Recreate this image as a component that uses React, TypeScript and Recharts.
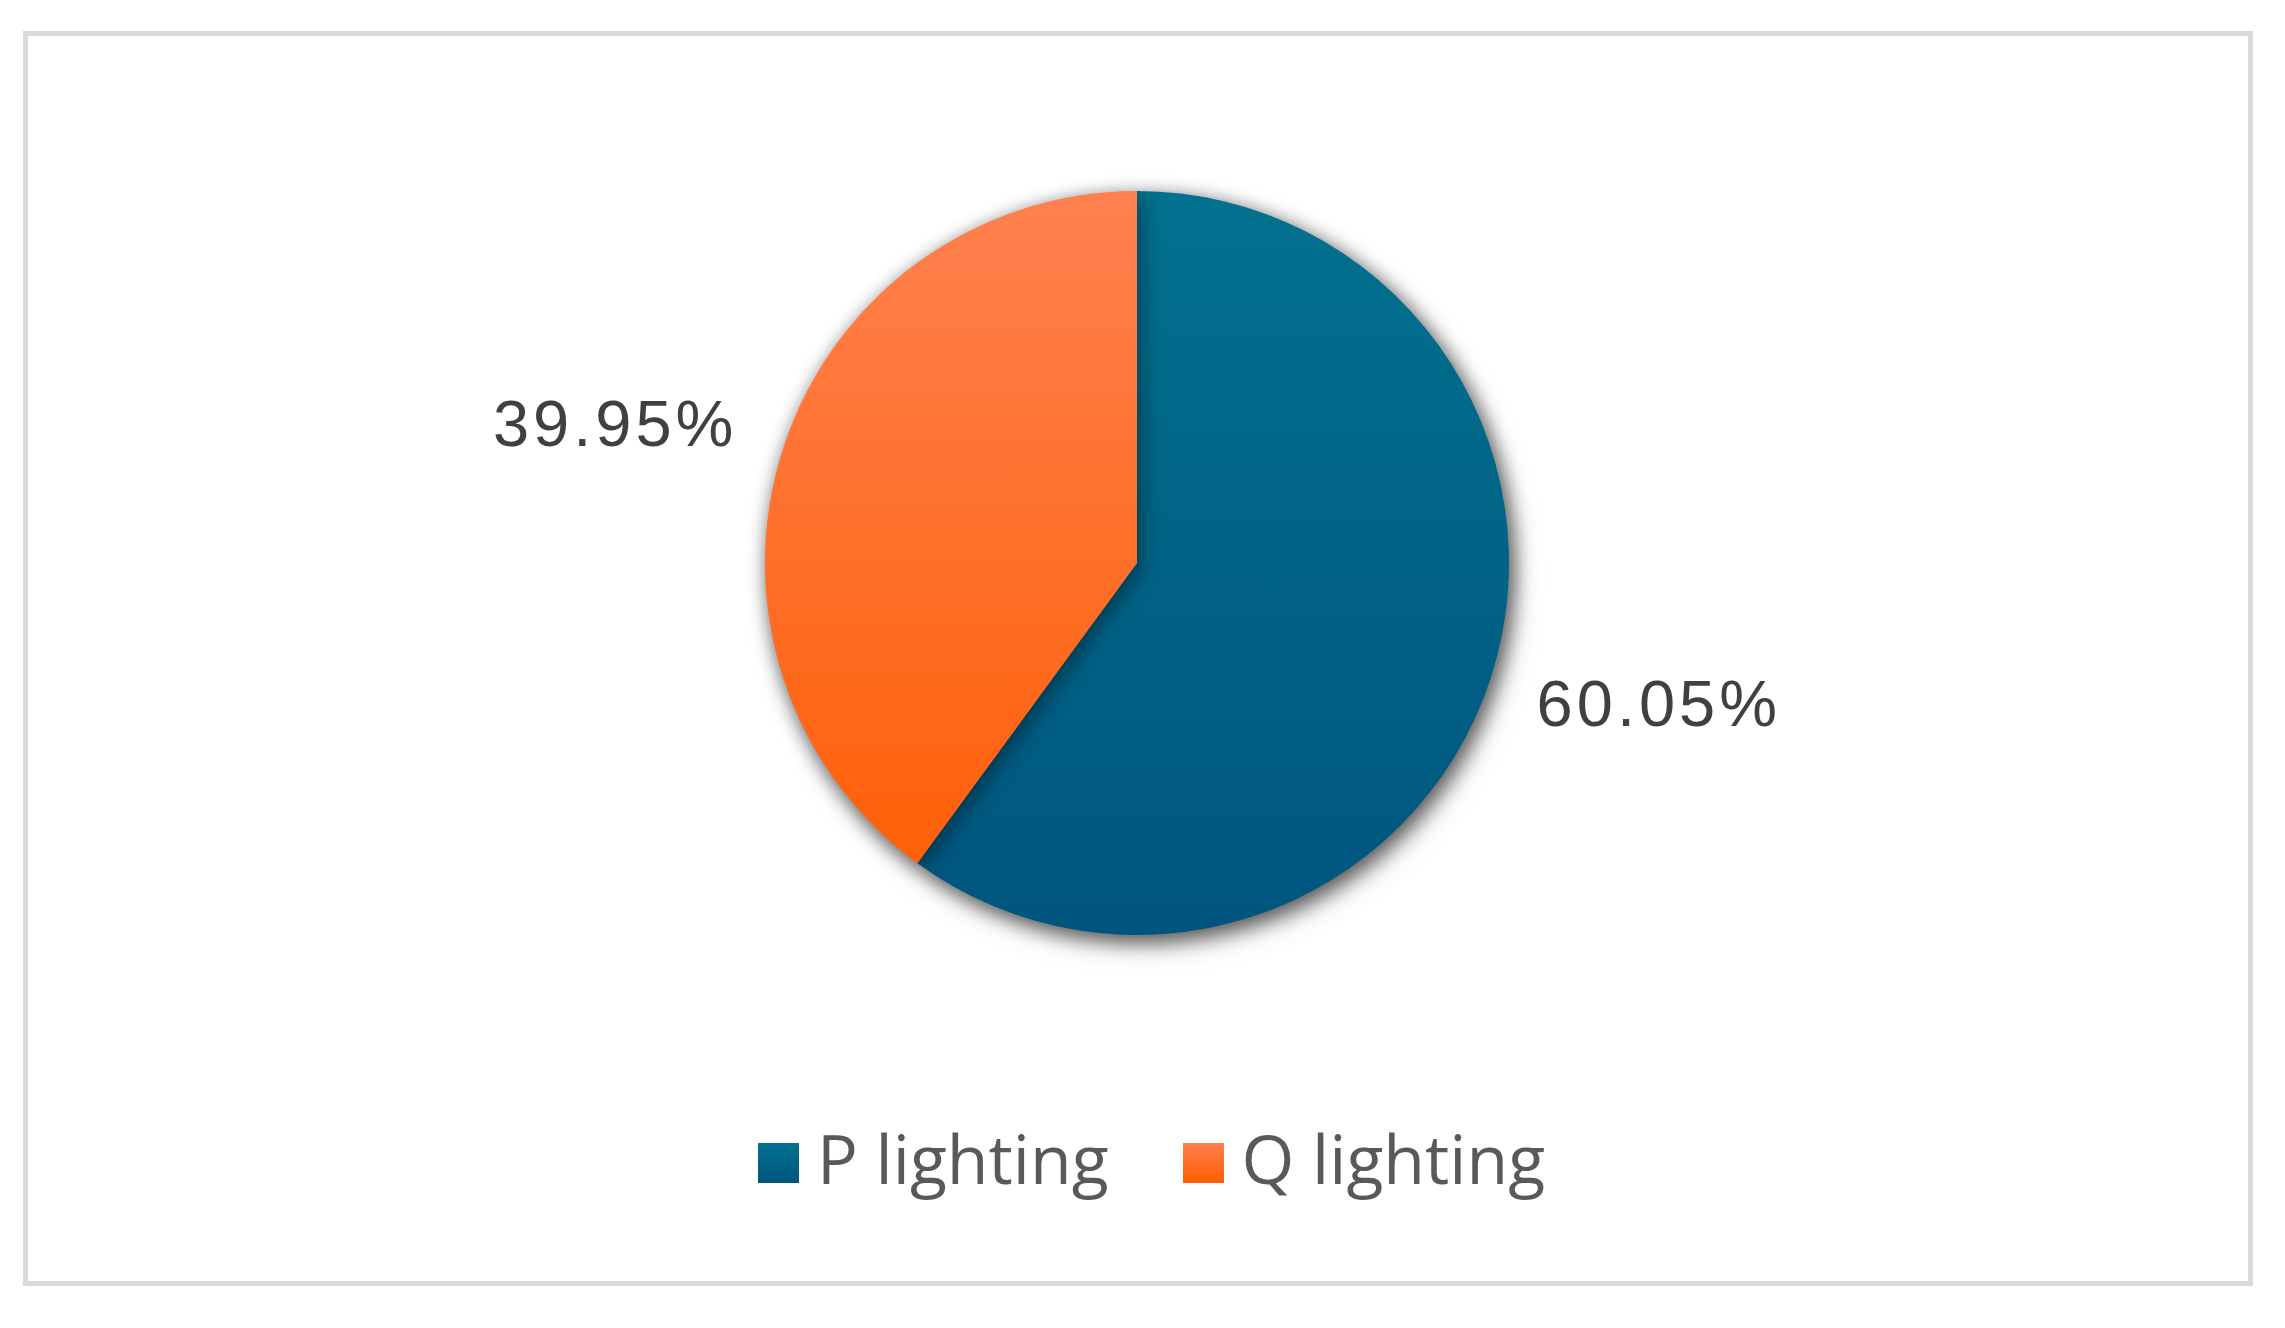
import { PieChart, Pie, Cell, Legend } from 'recharts'

// Reparto P/Q del alumbrado: dos porciones, etiqueta por fuera.
const categorias = ['P lighting', 'Q lighting']
const porcentajes = [60.05, 39.95]

const datos = categorias.map((name, i) => ({ name, value: porcentajes[i] }))

const colorArriba = ['#02718f', '#ff8150']
const colorAbajo = ['#00557e', '#ff5c00']

const ANCHO = 2269
const ALTO = 1312
// recharts suma el margen por defecto (5px) a cx/cy
const CX = 1124
const CY = 550
const RADIO = 372
const RAD = Math.PI / 180

function Etiqueta(props: any) {
  const { cx, cy, midAngle, outerRadius, value } = props
  const c = Math.cos(-midAngle * RAD)
  const s = Math.sin(-midAngle * RAD)
  const px = cx + outerRadius * c
  const py = cy + outerRadius * s
  const x = px + 46 * Math.sign(c)
  const y = py + 24 * Math.sign(s) + 23
  return (
    <text x={x} y={y} textAnchor={c >= 0 ? 'start' : 'end'} fill="#404040"
      style={{ fontFamily: '"Liberation Sans", Arial, sans-serif', fontSize: 65, letterSpacing: 4 }}>
      {`${Number(value).toFixed(2)}%`}
    </text>
  )
}

function Leyenda() {
  return (
    <div style={{ display: 'flex', alignItems: 'center' }}>
      {categorias.map((c, i) => (
        <div key={c} style={{ display: 'flex', alignItems: 'center', marginRight: i === 0 ? 74 : 0 }}>
          <span style={{
            display: 'inline-block', width: 41, height: 40,
            background: `linear-gradient(${colorArriba[i]}, ${colorAbajo[i]})`,
          }} />
          {/* la línea base del texto va a ras del borde inferior del cuadrado */}
          <span style={{
            marginLeft: 18, fontFamily: '"Open Sans", sans-serif', fontSize: 68,
            lineHeight: 1, color: '#595959', position: 'relative', top: -5,
          }}>{c}</span>
        </div>
      ))}
    </div>
  )
}

export default function App() {
  return (
    <div style={{ position: 'relative', width: ANCHO, height: ALTO }}>
      <div style={{
        position: 'absolute', left: 15, top: 23, width: 2230, height: 1255,
        border: '5px solid #d9d9d9', boxSizing: 'border-box',
      }} />
      <style>{`.pie-sombra { filter: drop-shadow(4px 6px 10px rgba(0,0,0,0.42)); }`}</style>
      <div style={{ position: 'absolute', left: 0, top: 0 }}>
        <PieChart width={ANCHO} height={ALTO}>
          <defs>
            {categorias.map((c, i) => (
              <linearGradient key={c} id={`grad${i}`} gradientUnits="userSpaceOnUse"
                x1={0} y1={CY + 5 - RADIO} x2={0} y2={CY + 5 + RADIO}>
                <stop offset="0%" stopColor={colorArriba[i]} />
                <stop offset="100%" stopColor={colorAbajo[i]} />
              </linearGradient>
            ))}
          </defs>
          <Pie data={datos} dataKey="value" nameKey="name" cx={CX} cy={CY}
            outerRadius={RADIO} startAngle={90} endAngle={-270} stroke="none"
            className="pie-sombra" label={<Etiqueta />} labelLine={false}
            isAnimationActive={false}>
            {datos.map((d, i) => <Cell key={d.name} fill={`url(#grad${i})`} />)}
          </Pie>
          <Legend content={<Leyenda />}
            wrapperStyle={{ left: 750, top: 1121, bottom: 'auto', width: 'auto' }} />
        </PieChart>
      </div>
    </div>
  )
}
